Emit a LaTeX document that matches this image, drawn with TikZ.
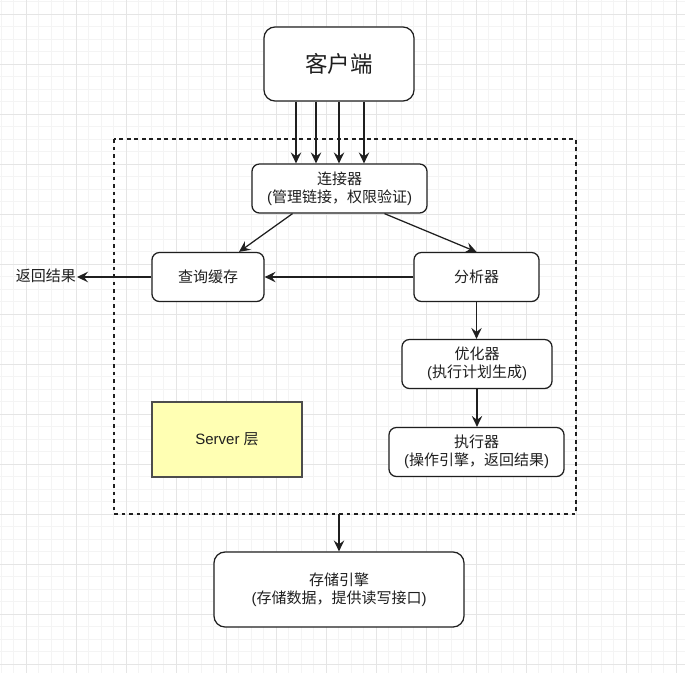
\documentclass[tikz,border=0pt]{standalone}
\usepackage{fontspec}
\setmainfont{Liberation Sans}
\newfontfamily\cjk{Noto Sans CJK SC}
\usetikzlibrary{arrows.meta,calc}
\definecolor{minorg}{HTML}{F4F4F4}
\definecolor{majorg}{HTML}{E5E5E5}
\definecolor{notefill}{HTML}{FFFFB3}
\definecolor{notedraw}{HTML}{4D4D4D}
\definecolor{ink}{HTML}{1F1F1F}
\begin{document}
\begin{tikzpicture}[x=1pt,y=-1pt,
  box/.style={draw=ink,line width=1.25pt,fill=white,rounded corners=7.4pt,inner sep=0pt,align=center,text=ink,font=\fontsize{15}{18}\selectfont},
  bigbox/.style={box,rounded corners=11pt},
  arr/.style={draw=ink,line width=1.25pt,-{Stealth[length=11pt,width=10.5pt,inset=4pt]}},
  lbl/.style={text=ink,inner sep=1pt,font=\fontsize{15}{18}\selectfont}]
\useasboundingbox (0,0) rectangle (685,673);
\fill[white] (0,0) rectangle (685,673);
% grid
\foreach \i in {0,...,54} {
  \draw[minorg,line width=1pt] ({1+12.5*\i},0) -- ({1+12.5*\i},673);
  \draw[minorg,line width=1pt] (0,{1.5+12.5*\i}) -- (685,{1.5+12.5*\i});
}
\foreach \i in {0,...,13} {
  \draw[majorg,line width=1pt] ({26+50*\i},0) -- ({26+50*\i},673);
  \draw[majorg,line width=1pt] (0,{14+50*\i}) -- (685,{14+50*\i});
}
% container
\draw[ink,line width=1.25pt,dash pattern=on 3.75pt off 3.75pt] (114,139) rectangle (576,514);
\coordinate (contS) at (339,514);
% nodes
\node[bigbox,minimum width=150pt,minimum height=74pt,font=\fontsize{22.5}{27}\selectfont] (client) at (339,64) {\cjk 客户端};
\node[box,minimum width=175pt,minimum height=49pt] (conn) at (339.5,188.5) {{\cjk 连接器}\\({\cjk 管理链接，权限验证})};
\node[box,minimum width=112pt,minimum height=49pt] (cache) at (208,277) {\cjk 查询缓存};
\node[box,minimum width=125pt,minimum height=49pt] (ana) at (476.5,277) {\cjk 分析器};
\node[box,minimum width=150pt,minimum height=49pt] (opt) at (477,364) {{\cjk 优化器}\\({\cjk 执行计划生成})};
\node[box,minimum width=175pt,minimum height=49pt] (exe) at (476.5,452) {{\cjk 执行器}\\({\cjk 操作引擎，返回结果})};
\node[draw=notedraw,fill=notefill,line width=1.25pt,minimum width=150pt,minimum height=75pt,inner sep=0pt,text=ink,font=\fontsize{15}{18}\selectfont] (server) at (227,439.5) {Server {\cjk 层}};
\node[bigbox,minimum width=250pt,minimum height=75pt] (store) at (339,589.5) {{\cjk 存储引擎}\\({\cjk 存储数据，提供读写接口})};
\node[lbl,anchor=east] (ret) at (77,276) {\cjk 返回结果};
% connectors
\foreach \d in {-43,-23,0,25} {
  \draw[arr] ($(client.south)+(\d,0)$) -- ($(conn.north)+(\d-0.5,0)$);
}
\draw[arr] ($(conn.south)+(-47,0)$) -- ($(cache.north)+(31,0)$);
\draw[arr] ($(conn.south)+(45,0)$) -- (ana.north);
\draw[arr] (ana.west) -- (cache.east);
\draw[arr] (cache.west) -- (cache.west -| ret.east);
\draw[arr] (ana.south) -- (ana.south |- opt.north);
\draw[arr] (opt.south) -- (opt.south |- exe.north);
\draw[arr] (contS) -- (store.north);
\end{tikzpicture}
\end{document}
